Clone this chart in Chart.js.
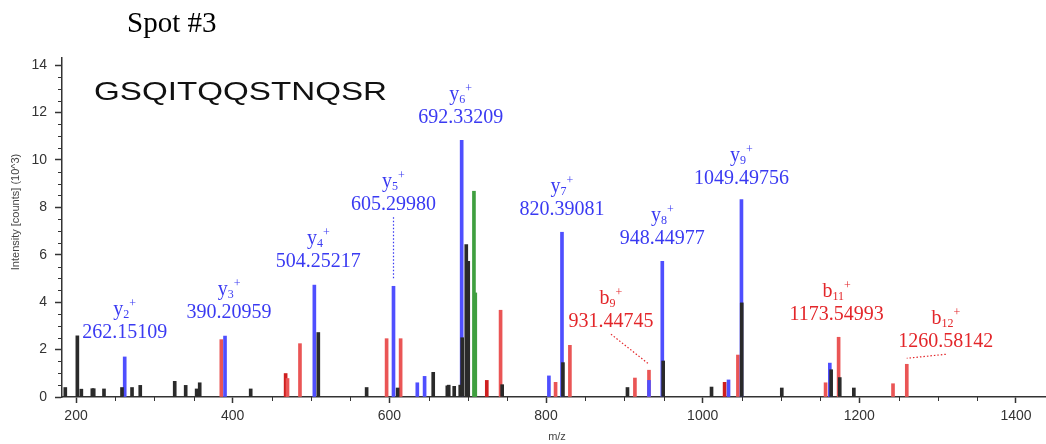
<!DOCTYPE html>
<html>
<head>
<meta charset="utf-8">
<script src="https://cdn.jsdelivr.net/npm/chart.js@4.4.0/dist/chart.umd.min.js"></script>
<style>
  html, body { margin: 0; padding: 0; background: #fff; }
  canvas { display: block; }
</style>
</head>
<body>
<canvas id="spectrum" width="1046" height="444"></canvas>
<script>
// peaks as [m/z, intensity (10^3 counts)]
const otherPeaks = [
  [186.3, 0.40], [201.7, 2.58], [206.8, 0.33], [220.8, 0.35], [222.6, 0.35], [235.7, 0.34],
  [258.7, 0.40], [271.5, 0.40], [282.0, 0.49], [326.0, 0.66], [340.0, 0.49], [354.0, 0.34],
  [357.9, 0.60], [423.0, 0.34], [509.3, 2.72], [571.0, 0.40], [610.6, 0.38], [656.0, 1.04],
  [674.0, 0.47], [675.8, 0.50], [682.8, 0.45], [690.5, 0.50], [693.0, 2.50], [698.2, 6.43],
  [700.7, 5.72], [744.0, 0.52], [821.6, 1.45], [904.0, 0.40], [949.6, 1.52], [1011.3, 0.42],
  [1049.9, 3.97], [1101.0, 0.38], [1164.0, 1.15], [1175.0, 0.82], [1193.0, 0.38]
];
const yIonPeaks = [
  [262.15, 1.69], [390.21, 2.57], [504.25, 4.72], [605.30, 4.67], [635.7, 0.60], [645.0, 0.87],
  [692.33, 10.83], [803.7, 0.89], [820.39, 6.95], [931.45, 0.70], [948.45, 5.72], [1033.0, 0.72],
  [1049.50, 8.33], [1162.3, 1.43]
];
const greenPeaks = [[708.0, 8.68], [709.7, 4.39]];
const bIonPeaks = [
  [385.5, 2.42], [470.0, 0.78], [485.9, 2.25], [596.5, 2.46], [614.4, 2.46], [742.0, 3.66],
  [812.2, 0.62], [830.5, 2.18], [913.5, 0.80], [931.45, 1.13], [1045.0, 1.77], [1156.9, 0.60],
  [1173.55, 2.52], [1243.0, 0.56], [1260.58, 1.38]
];
const darkRedPeaks = [[467.6, 0.99], [724.4, 0.70], [1028.0, 0.62]];

// ion annotations: [series, number, m/z text]
const ionLabels = [
  ['y', '2', '262.15109'], ['y', '3', '390.20959'], ['y', '4', '504.25217'],
  ['y', '5', '605.29980'], ['y', '6', '692.33209'], ['y', '7', '820.39081'],
  ['y', '8', '948.44977'], ['y', '9', '1049.49756'],
  ['b', '9', '931.44745'], ['b', '11', '1173.54993'], ['b', '12', '1260.58142']
];
const xTicks = [200, 400, 600, 800, 1000, 1200, 1400];
const yTicks = [0, 2, 4, 6, 8, 10, 12, 14];

const sequence = 'GSQITQQSTNQSR';
const spotTitle = 'Spot #3';

// label placement (pixels relative to the bar top)
const labelPlace = {
  '262.15109': { dx: 0, dy: -19 },
  '390.20959': { dx: 4, dy: -18 },
  '504.25217': { dx: 4, dy: -18 },
  '605.29980': { dx: 0, dy: -76, lead: true },
  '692.33209': { dx: -1, dy: -17 },
  '820.39081': { dx: 0, dy: -17 },
  '948.44977': { dx: 0, dy: -17 },
  '1049.49756': { dx: 0, dy: -16 },
  '931.44745': { dx: -38, dy: -43, lead: true },
  '1173.54993': { dx: -2, dy: -17 },
  '1260.58142': { dx: 39, dy: -17, lead: true }
};

const colors = { other: '#2a2a2a', y: '#4f4fff', green: '#3f9f3f', b: '#ea5555', darkRed: '#cf1f1f' };
const textColors = { y: '#3a3af2', b: '#e3262a' };

const toXY = arr => arr.map(p => ({ x: p[0], y: p[1] }));

const annotations = {
  id: 'annotations',
  afterDraw(chart) {
    const c = chart.ctx;
    const xs = chart.scales.x, ys = chart.scales.y;
    const area = chart.chartArea;
    c.save();

    // minor ticks
    c.strokeStyle = '#333';
    c.lineWidth = 1;
    c.beginPath();
    for (let v = 0.5; v <= 14.3; v += 0.5) {
      if (v % 2 === 0) continue;
      const py = Math.round(ys.getPixelForValue(v)) + 0.5;
      c.moveTo(area.left - 4, py); c.lineTo(area.left, py);
    }
    for (let v = 200; v <= 1438; v += 50) {
      if (v % 200 === 0) continue;
      const px = Math.round(xs.getPixelForValue(v)) + 0.5;
      c.moveTo(px, area.bottom); c.lineTo(px, area.bottom + 4);
    }
    c.stroke();

    // titles
    c.fillStyle = '#000';
    c.font = '29px "Liberation Serif"';
    c.textAlign = 'left';
    c.textBaseline = 'alphabetic';
    c.fillText(spotTitle, 127, 32);

    c.save();
    c.font = '26px "Liberation Sans"';
    c.translate(94, 100);
    c.scale(293 / c.measureText(sequence).width, 1);
    c.fillStyle = '#111';
    c.fillText(sequence, 0, 0);
    c.restore();

    c.fillStyle = '#444';
    c.font = '11px "Liberation Sans"';
    c.textAlign = 'center';
    c.fillText('m/z', 557, 440);
    c.save();
    c.translate(19, 212);
    c.rotate(-Math.PI / 2);
    c.fillText('Intensity [counts] (10^3)', 0, 0);
    c.restore();

    // ion labels
    ionLabels.forEach(([ion, num, text]) => {
      const mz = parseFloat(text);
      const peaks = ion === 'y' ? yIonPeaks : bIonPeaks;
      const peak = peaks.reduce((a, p) => Math.abs(p[0] - mz) < Math.abs(a[0] - mz) ? p : a);
      const place = labelPlace[text];
      const barX = xs.getPixelForValue(peak[0]);
      const barTop = ys.getPixelForValue(peak[1]);
      const cx = barX + place.dx;
      const base = barTop + place.dy;
      c.fillStyle = textColors[ion];
      c.textAlign = 'center';
      c.font = '20px "Liberation Serif"';
      c.fillText(text, cx, base);

      // ion name with subscript and charge
      c.textAlign = 'left';
      c.font = '20px "Liberation Serif"';
      const w1 = c.measureText(ion).width;
      c.font = '12px "Liberation Serif"';
      const w2 = c.measureText(num).width;
      const w3 = c.measureText('+').width;
      const x0 = cx - (w1 + w2 + w3) / 2;
      const nb = base - 23;
      c.font = '20px "Liberation Serif"';
      c.fillText(ion, x0, nb);
      c.font = '12px "Liberation Serif"';
      c.fillText(num, x0 + w1, nb + 3);
      c.fillText('+', x0 + w1 + w2, nb - 8);

      if (place.lead) {
        c.strokeStyle = textColors[ion];
        c.lineWidth = 1.2;
        c.setLineDash([1.5, 2]);
        c.beginPath();
        c.moveTo(cx, base + 7);
        c.lineTo(barX, barTop - 6);
        c.stroke();
        c.setLineDash([]);
      }
    });
    c.restore();
  }
};

const tickFont = { family: 'Liberation Sans', size: 14 };

new Chart(document.getElementById('spectrum'), {
  type: 'bar',
  data: {
    datasets: [
      { label: 'other', data: toXY(otherPeaks), backgroundColor: colors.other, order: 0 },
      { label: 'y ions', data: toXY(yIonPeaks), backgroundColor: colors.y, order: 1 },
      { label: 'green', data: toXY(greenPeaks), backgroundColor: colors.green, order: 2 },
      { label: 'b ions', data: toXY(bIonPeaks), backgroundColor: colors.b, order: 3 },
      { label: 'b ions dark', data: toXY(darkRedPeaks), backgroundColor: colors.darkRed, order: 3 }
    ]
  },
  options: {
    responsive: false,
    animation: false,
    layout: { padding: { top: 58, left: 0, right: 0, bottom: 0 } },
    datasets: { bar: { barThickness: 3, grouped: false, borderWidth: 0 } },
    plugins: { legend: { display: false }, tooltip: { enabled: false } },
    scales: {
      x: {
        type: 'linear', min: 182.1, max: 1438.3, offset: false,
        grid: { drawOnChartArea: false, drawTicks: true, tickLength: 6, tickColor: '#333', tickWidth: 1.5, offset: false },
        border: { color: '#333', width: 1.5 },
        ticks: {
          stepSize: 200, includeBounds: false, padding: 5, font: tickFont, color: '#333',
          maxRotation: 0, autoSkip: false,
          callback: v => xTicks.includes(v) ? String(v) : ''
        },
        afterFit: s => { s.height = 47; }
      },
      y: {
        min: 0, max: 14.3,
        grid: { drawOnChartArea: false, drawTicks: true, tickLength: 7, tickColor: '#333', tickWidth: 1.5 },
        border: { color: '#333', width: 1.5 },
        ticks: {
          stepSize: 2, includeBounds: false, padding: 8, font: tickFont, color: '#333',
          callback: v => yTicks.includes(v) ? String(v) : ''
        },
        afterFit: s => { s.width = 62; }
      }
    }
  },
  plugins: [annotations]
});
</script>
</body>
</html>
